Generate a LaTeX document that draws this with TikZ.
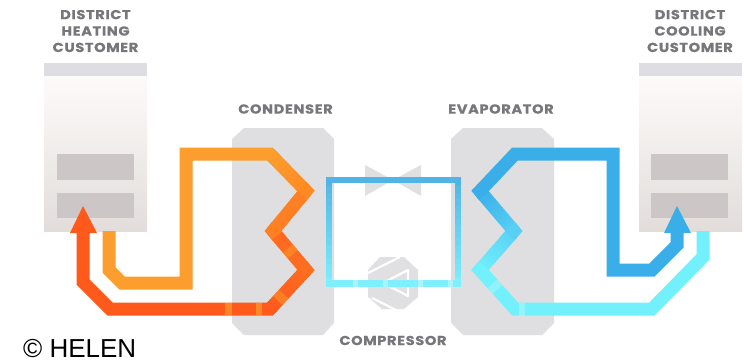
\documentclass[tikz,border=0pt]{standalone}
\usepackage{fontspec}
\setmainfont{Liberation Sans}
\newfontfamily\lab{Poppins}[FakeStretch=1.12,LetterSpace=5,BoldFeatures={FakeBold=0.5}]
\usetikzlibrary{calc}
\definecolor{lbl}{HTML}{77777B}
\definecolor{hx}{HTML}{DFDFE2}
\definecolor{win}{HTML}{CCC6C6}
\definecolor{hdr}{HTML}{DEDEE2}
\definecolor{gry}{HTML}{E0E0E3}
\definecolor{bldt}{HTML}{FDFBFA}
\definecolor{bldb}{HTML}{E2DDDA}
\definecolor{ora}{HTML}{FC9E2E}
\definecolor{orb}{HTML}{FF8A24}
\definecolor{red}{HTML}{FF5A1C}
\definecolor{blu}{HTML}{3AAEE8}
\definecolor{blm}{HTML}{58D0F6}
\definecolor{cya}{HTML}{72F0FC}
\definecolor{sqa}{HTML}{52B4E6}
\definecolor{sqb}{HTML}{7EEFFC}
\tikzset{
  lbltext/.style={font=\lab\bfseries\fontsize{13}{16.4}\selectfont,text=lbl,align=center,inner sep=0pt},
  pipe/.style={line width=13pt,line cap=butt,line join=miter},
  thin pipe/.style={line width=6.4pt,line cap=butt,line join=miter},
  building/.style={bottom color=bldb,top color=bldt},
}
\newcommand{\gradseg}[5][pipe]{%
  \foreach \i in {1,...,16}{%
    \pgfmathsetmacro{\tA}{(\i-1)/16}\pgfmathsetmacro{\tB}{\i/16+0.02}%
    \pgfmathsetmacro{\mx}{100*(1-(\i-0.5)/16)}%
    \draw[#1,draw={#4!\mx!#5}] ($(#2)!\tA!(#3)$) -- ($(#2)!\tB!(#3)$);
  }}
% mitred corner piece: previous point, corner, next point, colour
\newcommand{\mjoint}[4]{\draw[pipe,draw=#4] ($(#2)!6pt!(#1)$) -- (#2) -- ($(#2)!6pt!(#3)$);}
\begin{document}
\begin{tikzpicture}[x=1pt,y=-1pt]
\useasboundingbox (0,0) rectangle (744,361);
\fill[white] (0,0) rectangle (744,361);
% customers
\shade[building] (44,76) rectangle (147,231);
\fill[hdr] (44,63.5) rectangle (147,76);
\fill[win] (57,154) rectangle (134,180);
\fill[win] (57,193) rectangle (134,218);
\shade[building] (639,76) rectangle (742,231);
\fill[hdr] (639,63.5) rectangle (742,76);
\fill[win] (651,154) rectangle (728,180);
\fill[win] (651,193) rectangle (728,218);
% exchangers
\fill[hx] (244,128) -- (323,128) -- (334,139) -- (334,323) -- (323,335) -- (244,335) -- (232,323) -- (232,139) -- cycle;
\fill[hx] (463,128) -- (542,128) -- (554,139) -- (554,323) -- (542,335) -- (463,335) -- (451,323) -- (451,139) -- cycle;
% expansion valve
\fill[gry] (365,165) -- (393,180) -- (365,196) -- cycle;
\fill[gry] (421,165) -- (393,180) -- (421,196) -- cycle;
% compressor
\fill[gry] (380,257) -- (404,257) -- (418,270) -- (418,297) -- (404,309) -- (382,309) -- (368,297) -- (368,270) -- cycle;
\draw[white,line width=2.2pt] (366,274) -- (400,257);
\draw[white,line width=2.2pt,line join=round] (408,270) -- (383,283) -- (408,296) -- cycle;
\draw[white,line width=2.2pt] (372,298) -- (398,311);
% refrigerant loop
\coordinate (sTL) at (329,180); \coordinate (sTR) at (458,180);
\coordinate (sBL) at (329,283.5); \coordinate (sBR) at (458,283.5);
\gradseg[thin pipe]{sTL}{sBL}{sqa}{sqb}
\gradseg[thin pipe]{sTR}{sBR}{sqa}{sqb}
\draw[thin pipe,draw=sqa] ($(sTL)+(0,6)$) -- (sTL) -- (sTR) -- ($(sTR)+(0,6)$);
\draw[thin pipe,draw=sqb] ($(sBL)+(0,-6)$) -- (sBL) -- (sBR) -- ($(sBR)+(0,-6)$);
\foreach \x in {355,385,420,450}{\fill[white,opacity=.35] (\x-2.5,280.3) rectangle (\x+2.5,286.7);}
% orange / red pipe
\coordinate (o0) at (109,231); \coordinate (o1) at (109,270); \coordinate (o2) at (122,283);
\coordinate (o3) at (186,283); \coordinate (o4) at (186,154); \coordinate (o5) at (270,154);
\coordinate (o6) at (306,191); \coordinate (o7) at (273,231); \coordinate (o8) at (306,270);
\coordinate (o9) at (270,309); \coordinate (o10) at (110,309); \coordinate (o11) at (83,282);
\coordinate (o12) at (83,232); \coordinate (oTip) at (83,206);
\draw[pipe,draw=ora] (o0) -- (o1) -- (o2) -- (o3) -- (o4) -- (o5) -- ($(o5)!6pt!(o6)$);
\gradseg{o5}{o6}{ora}{orb}
\gradseg{o6}{o7}{orb}{orb!80!red}
\gradseg{o7}{o8}{orb!80!red}{orb!40!red}
\gradseg{o8}{o9}{orb!40!red}{red}
\mjoint{o5}{o6}{o7}{orb}
\mjoint{o6}{o7}{o8}{orb!80!red}
\mjoint{o7}{o8}{o9}{orb!40!red}
\draw[pipe,draw=red] ($(o9)!6pt!(o8)$) -- (o9) -- (o10) -- (o11) -- (o12);
\fill[red] (oTip) -- (97,233) -- (70,233) -- cycle;
\foreach \a/\b in {225/232,256/262}{\fill[ora,opacity=.65] (\a,302.5) rectangle (\b,315.5);}
\draw[line width=13pt,ora,opacity=.5] ($(o7)!.45!(o8)$) -- ($(o7)!.6!(o8)$);
\draw[line width=13pt,ora,opacity=.5] ($(o8)!.62!(o9)$) -- ($(o8)!.78!(o9)$);
% blue / cyan pipe
\coordinate (b0) at (677,232); \coordinate (bTip) at (677,206);
\coordinate (b1) at (677,245); \coordinate (b2) at (652,270); \coordinate (b3) at (613,270);
\coordinate (b4) at (613,154); \coordinate (b5) at (515,154); \coordinate (b6) at (480,191);
\coordinate (b7) at (514,231); \coordinate (b8) at (480,270); \coordinate (b9) at (515,309);
\coordinate (b10) at (652,309); \coordinate (b11) at (703,257); \coordinate (b12) at (703,231);
\draw[pipe,draw=cya] (b12) -- (b11) -- (b10) -- (b9) -- (b8) -- ($(b8)!6pt!(b7)$);
\gradseg{b7}{b8}{blm}{cya}
\gradseg{b6}{b7}{blu}{blm}
\mjoint{b8}{b7}{b6}{blm}
\mjoint{b9}{b8}{b7}{cya}
\draw[pipe,draw=blu] (b0) -- (b1) -- (b2) -- (b3) -- (b4) -- (b5) -- (b6) -- ($(b6)!6pt!(b7)$);
\fill[blu] (bTip) -- (691,233) -- (664,233) -- cycle;
\draw[line width=13pt,white,opacity=.2] ($(b8)!.35!(b9)$) -- ($(b8)!.5!(b9)$);
\fill[white,opacity=.25] (519,302.5) rectangle (525,315.5);
% labels
\node[lbltext] (lh) at (95.5,31) {DISTRICT\\HEATING\\CUSTOMER};
\node[lbltext] (lc) at (690,31) {DISTRICT\\COOLING\\CUSTOMER};
\node[lbltext] (lcd) at (285.5,109) {CONDENSER};
\node[lbltext] (lev) at (501,109) {EVAPORATOR};
\node[lbltext] (lcp) at (393,340.5) {COMPRESSOR};
\node[font=\fontsize{26}{28}\selectfont,inner sep=0pt,anchor=base west] (hl) at (23,357) {© HELEN};
\end{tikzpicture}
\end{document}
